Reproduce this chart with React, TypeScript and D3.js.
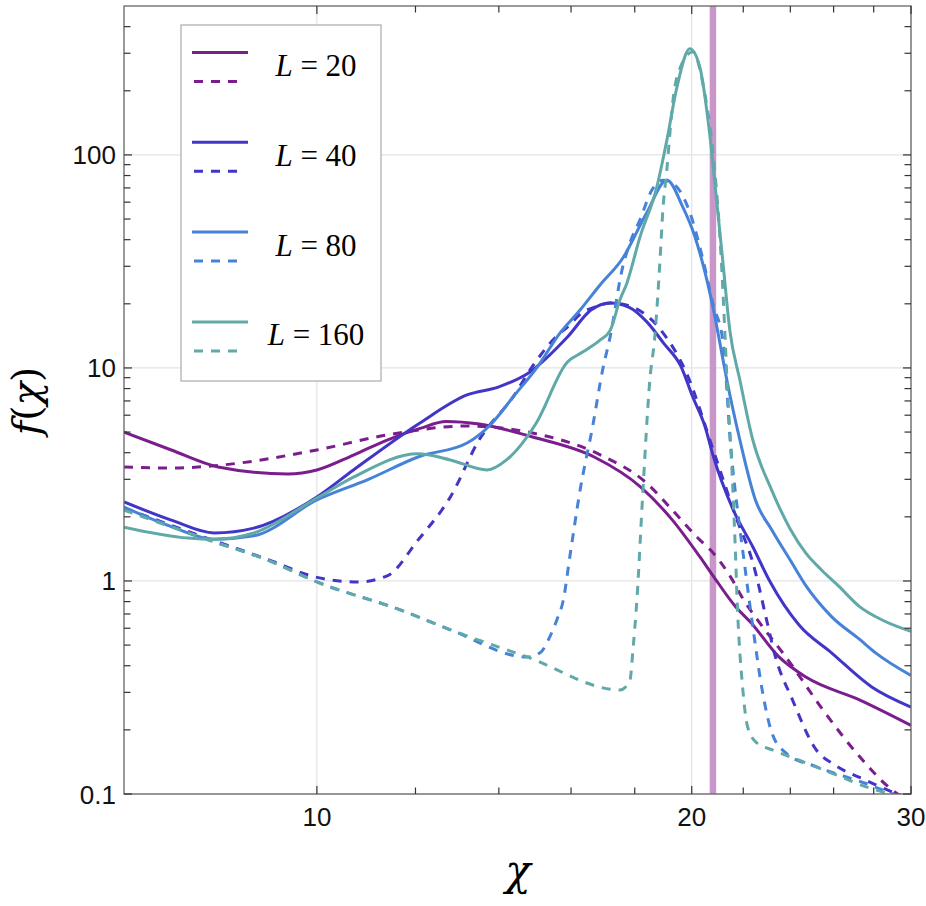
import * as d3 from "d3";

// ---- data (chi, f(chi)) ----
const chi20Solid = [7.0, 7.64, 8.33, 9.48, 10.0, 10.7, 11.4, 12.1, 12.7, 13.5, 14.9, 16.7, 18.2, 19.3, 20.3, 20.8, 21.7, 22.3, 23.5, 24.7, 27.3, 30.0];
const f20Solid = [5.0, 4.12, 3.43, 3.18, 3.32, 3.9, 4.6, 5.2, 5.6, 5.45, 4.74, 3.82, 2.76, 1.93, 1.3, 1.06, 0.755, 0.64, 0.44, 0.354, 0.276, 0.21];

const chi20Dashed = [7.0, 7.64, 8.38, 10.0, 11.4, 13.2, 14.9, 16.9, 18.4, 19.3, 20.3, 20.7, 21.5, 22.0, 22.8, 23.8, 25.6, 27.3, 29.0, 30.0];
const f20Dashed = [3.43, 3.39, 3.5, 4.12, 4.85, 5.34, 4.95, 3.9, 2.88, 2.15, 1.56, 1.4, 1.04, 0.82, 0.61, 0.44, 0.24, 0.149, 0.104, 0.092];

const chi40Solid = [7.0, 7.64, 8.27, 8.9, 10.0, 10.7, 12.1, 13.2, 14.0, 14.8, 15.9, 16.6, 17.2, 17.8, 18.4, 19.0, 19.6, 20.04, 20.5, 20.8, 21.6, 22.4, 23.1, 24.4, 25.9, 27.9, 30.0];
const f40Solid = [2.35, 1.93, 1.68, 1.77, 2.48, 3.32, 5.52, 7.47, 8.15, 9.5, 14.0, 18.7, 20.2, 19.3, 16.5, 13.0, 10.2, 7.3, 5.3, 3.9, 2.15, 1.44, 1.0, 0.62, 0.46, 0.318, 0.256];

const chi40Dashed = [7.0, 8.18, 9.14, 10.0, 10.8, 11.4, 12.05, 12.8, 13.5, 14.37, 14.92, 15.6, 15.9, 16.3, 16.8, 17.2, 17.8, 18.9, 19.8, 20.9, 21.7, 22.4, 23.0, 23.3, 24.1, 25.2, 26.0, 27.6, 29.0, 30.0];
const f40Dashed = [2.2, 1.58, 1.26, 1.04, 0.99, 1.06, 1.55, 2.48, 4.6, 7.3, 10.3, 14.2, 15.6, 18.0, 19.5, 20.2, 19.6, 15.0, 9.5, 3.82, 2.0, 1.21, 0.635, 0.46, 0.276, 0.16, 0.138, 0.116, 0.102, 0.095];

const chi80Solid = [7.0, 7.64, 8.27, 8.9, 10.0, 11.0, 12.1, 13.2, 13.78, 14.4, 15.03, 15.68, 16.27, 16.88, 17.62, 18.4, 19.1, 19.67, 20.1, 20.5, 20.9, 21.1, 21.34, 21.86, 22.5, 23.2, 24.0, 24.7, 25.9, 27.3, 28.1, 30.0];
const f80Solid = [2.22, 1.8, 1.57, 1.63, 2.4, 3.0, 3.85, 4.44, 5.4, 7.4, 10.1, 14.6, 18.7, 24.5, 33, 53.4, 76.3, 57, 42, 28, 16.8, 12.5, 8.8, 4.6, 2.4, 1.73, 1.25, 0.95, 0.68, 0.53, 0.46, 0.36];

const chi80Dashed = [7.0, 8.18, 9.14, 10.0, 11.68, 12.8, 14.75, 15.11, 15.39, 15.59, 15.77, 15.97, 16.27, 16.65, 16.98, 17.2, 17.58, 17.84, 18.17, 18.58, 18.96, 19.4, 19.9, 20.4, 20.8, 21.2, 21.5, 21.8, 22.05, 22.4, 22.8, 23.2, 23.8, 25.2, 27.6, 29.0, 30.0];
const f80Dashed = [2.2, 1.56, 1.25, 0.99, 0.73, 0.59, 0.44, 0.46, 0.55, 0.66, 0.81, 1.32, 2.67, 5.3, 10.1, 14, 28.8, 38.6, 49.4, 68.4, 76, 72, 55, 33, 20, 13, 4.2, 2.0, 1.2, 0.6, 0.3, 0.193, 0.156, 0.134, 0.112, 0.1, 0.093];

const chi160Solid = [7.0, 7.88, 8.27, 8.9, 10.0, 10.71, 12.05, 12.8, 13.7, 14.2, 15.0, 15.88, 16.36, 16.88, 17.2, 17.52, 17.74, 18.17, 18.75, 19.1, 19.46, 19.93, 20.3, 20.67, 20.94, 21.18, 21.46, 21.86, 22.39, 23.2, 24.0, 24.7, 25.45, 26.27, 27.26, 28.44, 30.0];
const f160Solid = [1.79, 1.59, 1.57, 1.68, 2.45, 3.08, 3.95, 3.7, 3.32, 3.7, 5.5, 10.6, 11.9, 13.5, 15, 21, 25, 41, 70.6, 117, 208, 315, 259, 127, 61.5, 32, 15, 8.8, 4.6, 2.65, 1.75, 1.35, 1.12, 0.94, 0.76, 0.656, 0.58];

const chi160Dashed = [7.0, 8.18, 9.14, 10.0, 11.68, 12.8, 14.75, 17.52, 17.7, 17.84, 17.94, 18.07, 18.27, 18.51, 18.68, 18.86, 18.96, 19.1, 19.21, 19.32, 19.57, 20.04, 20.41, 20.79, 21.06, 21.18, 21.26, 21.38, 21.53, 21.65, 21.77, 21.97, 22.18, 22.55, 23.22, 24.4, 25.94, 27.62, 28.97, 30.0];
const f160Dashed = [2.15, 1.56, 1.25, 0.99, 0.73, 0.59, 0.44, 0.308, 0.318, 0.34, 0.475, 0.81, 2.59, 8.8, 14, 32, 55, 85, 127, 181, 255, 305, 218, 105, 43, 24, 15, 7.3, 3.6, 1.73, 0.72, 0.32, 0.206, 0.174, 0.161, 0.144, 0.125, 0.108, 0.099, 0.092];

const sizes = ["20", "40", "80", "160"];
const colors = ["#7a1e8e", "#4136c7", "#4682d8", "#60a9a8"];
const markerChi = 20.8;

const xMajor = [10, 20, 30];
const xMinor = [12, 14, 16, 18, 22, 24, 26, 28];
const yMajor = [0.1, 1, 10, 100];
const yMajorLabels = ["0.1", "1", "10", "100"];

const W = 926;
const H = 906;
const LEFT = 124;
const RIGHT = 911;
const TOP = 6;
const BOTTOM = 794;

const x = d3.scaleLog().domain([7, 30]).range([LEFT, RIGHT]);
const y = d3.scaleLog().domain([0.1, 500]).range([BOTTOM, TOP]);

const yMinor = [0.1, 1, 10, 100]
  .flatMap((d) => d3.range(2, 10).map((k) => k * d))
  .filter((v) => v < 500);

const series = [
  { c: 0, dashed: true, xs: chi20Dashed, ys: f20Dashed },
  { c: 0, dashed: false, xs: chi20Solid, ys: f20Solid },
  { c: 1, dashed: true, xs: chi40Dashed, ys: f40Dashed },
  { c: 1, dashed: false, xs: chi40Solid, ys: f40Solid },
  { c: 2, dashed: true, xs: chi80Dashed, ys: f80Dashed },
  { c: 2, dashed: false, xs: chi80Solid, ys: f80Solid },
  { c: 3, dashed: true, xs: chi160Dashed, ys: f160Dashed },
  { c: 3, dashed: false, xs: chi160Solid, ys: f160Solid },
];

const line = d3
  .line<[number, number]>()
  .x((d) => x(d[0]))
  .y((d) => y(d[1]))
  .curve(d3.curveMonotoneX);

const DASH = "9,8";
const SERIF = "'DejaVu Serif', 'Liberation Serif', serif";

export default function App() {
  return (
    <svg
      width={W}
      height={H}
      style={{ position: "absolute", left: 0, top: 0, background: "#fff" }}
    >
      <defs>
        <clipPath id="plot">
          <rect x={LEFT} y={TOP} width={RIGHT - LEFT} height={BOTTOM - TOP} />
        </clipPath>
      </defs>

      {/* grid */}
      <g stroke="#e3e3e3" strokeWidth={1.2}>
        {xMajor.map((v) => (
          <line key={v} x1={x(v)} x2={x(v)} y1={TOP} y2={BOTTOM} />
        ))}
        {yMajor.map((v) => (
          <line key={v} x1={LEFT} x2={RIGHT} y1={y(v)} y2={y(v)} />
        ))}
      </g>

      <line
        x1={x(markerChi)}
        x2={x(markerChi)}
        y1={TOP}
        y2={BOTTOM}
        stroke="#c996c9"
        strokeWidth={6.5}
      />

      <g clipPath="url(#plot)" fill="none" strokeWidth={3}>
        {series.map((s, i) => (
          <path
            key={i}
            d={line(s.xs.map((v, j) => [v, s.ys[j]] as [number, number])) ?? ""}
            stroke={colors[s.c]}
            strokeDasharray={s.dashed ? DASH : undefined}
          />
        ))}
      </g>

      {/* frame and ticks */}
      <rect
        x={LEFT}
        y={TOP}
        width={RIGHT - LEFT}
        height={BOTTOM - TOP}
        fill="none"
        stroke="#666"
        strokeWidth={1.3}
      />
      <g stroke="#333" strokeWidth={1.2}>
        {xMajor.concat(xMinor).map((v) => {
          const len = xMajor.includes(v) ? 8 : 6.5;
          return (
            <g key={v}>
              <line x1={x(v)} x2={x(v)} y1={BOTTOM} y2={BOTTOM - len} />
              <line x1={x(v)} x2={x(v)} y1={TOP} y2={TOP + len} />
            </g>
          );
        })}
        {yMajor.concat(yMinor).map((v) => {
          const len = yMajor.includes(v) ? 8 : 6.5;
          return (
            <g key={v}>
              <line x1={LEFT} x2={LEFT + len} y1={y(v)} y2={y(v)} />
              <line x1={RIGHT} x2={RIGHT - len} y1={y(v)} y2={y(v)} />
            </g>
          );
        })}
      </g>

      {/* tick labels */}
      <g fontFamily="'Liberation Sans', Arial, sans-serif" fontSize={26} fill="#111">
        {xMajor.map((v) => (
          <text key={v} x={x(v)} y={826} textAnchor="middle">
            {v}
          </text>
        ))}
        {yMajor.map((v, i) => (
          <text key={v} x={116} y={y(v) + 9.5} textAnchor="end">
            {yMajorLabels[i]}
          </text>
        ))}
      </g>

      {/* axis titles */}
      <text
        x={518}
        y={885}
        textAnchor="middle"
        fontFamily={SERIF}
        fontStyle="italic"
        fontSize={42}
      >
        χ
      </text>
      <text
        transform="translate(40,401) rotate(-90)"
        textAnchor="middle"
        fontFamily={SERIF}
        fontSize={39}
      >
        <tspan fontStyle="italic">f</tspan>(<tspan fontStyle="italic">χ</tspan>)
      </text>

      {/* legend */}
      <rect x={181} y={25} width={200} height={356} fill="#fff" stroke="#aaa" strokeWidth={1.2} />
      {sizes.map((s, i) => {
        const y0 = 52.5 + i * 89.8;
        return (
          <g key={s}>
            <line x1={192} x2={248} y1={y0} y2={y0} stroke={colors[i]} strokeWidth={3} />
            <line
              x1={194}
              x2={240}
              y1={y0 + 29}
              y2={y0 + 29}
              stroke={colors[i]}
              strokeWidth={3}
              strokeDasharray={DASH}
            />
            <text
              x={316}
              y={y0 + 23.5}
              textAnchor="middle"
              fontFamily="'Liberation Serif', serif"
              fontSize={31}
            >
              <tspan fontStyle="italic">L</tspan> = {s}
            </text>
          </g>
        );
      })}
    </svg>
  );
}
